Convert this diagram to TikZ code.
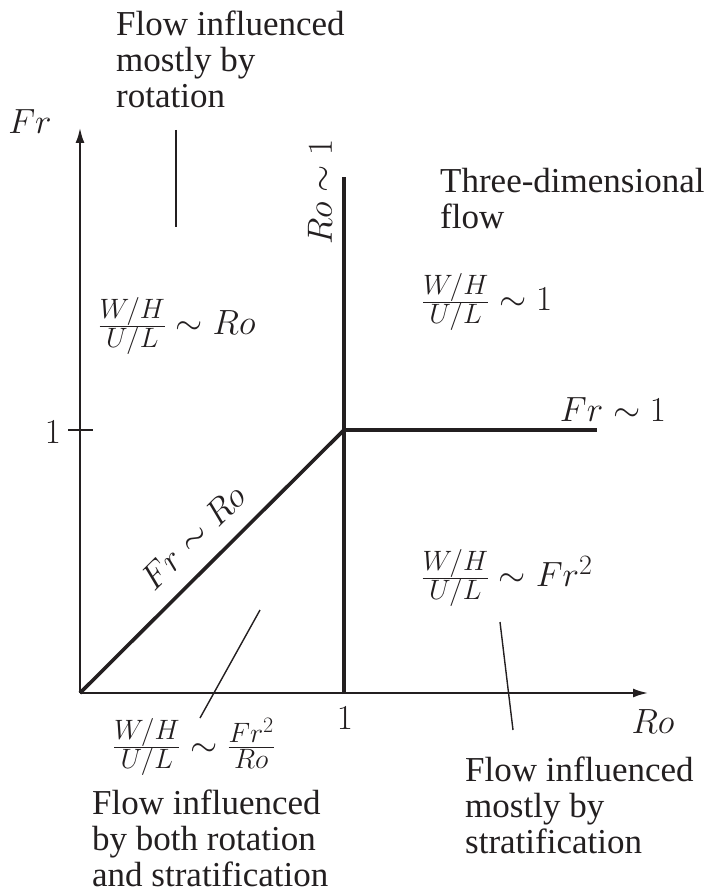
\RequirePackage{fix-cm}
\documentclass[tikz,border=0pt]{standalone}
\usepackage[no-math]{fontspec}
\setmainfont{Liberation Serif}
\DeclareMathSizes{35}{35}{28}{22}
\usetikzlibrary{arrows.meta}
\definecolor{ink}{HTML}{231F20}
\begin{document}
\begin{tikzpicture}[x=1pt,y=-1pt,
  every node/.style={inner sep=0pt, text=ink, font=\fontsize{35}{36}\selectfont},
  axisline/.style={draw=ink, line width=2pt},
  boundary/.style={draw=ink, line width=3.6pt},
  pointer/.style={draw=ink, line width=1.4pt},
  axarrow/.style={-{Latex[length=15pt,width=9pt]}},
  regiontext/.style={align=left, anchor=north west}]
\useasboundingbox (0,0) rectangle (708,890);
% axes
\coordinate (O) at (80,693);
\coordinate (ytip) at (80,128);
\coordinate (xtip) at (648,693);
\draw[axisline, axarrow] (O) -- (ytip);
\draw[axisline, axarrow] (O) -- (xtip);
% y tick
\coordinate (tickL) at (68,430);
\coordinate (tickR) at (93,430);
\draw[axisline] (tickL) -- (tickR);
% boundaries
\coordinate (C) at (344,430);
\coordinate (Vtop) at (344,177);
\coordinate (Vbot) at (344,694);
\coordinate (Hend) at (597,430);
\draw[boundary] (Vbot) -- (Vtop);
\draw[boundary] (C) -- (Hend);
\draw[boundary] (O) -- (C) node[pos=0.51, sloped, above=17pt] (frro) {$Fr\sim Ro$};
% axis labels
\node (frlab) at (30,122) {$Fr$};
\node (rolab) at (653,722) {$Ro$};
\node (xone) at (345,718) {$1$};
\node (yone) at (53,432) {$1$};
\node[rotate=90] (roone) at (320,192) {$Ro\sim 1$};
\node (frone) at (613,410) {$Fr\sim 1$};
% regime formulas
\node (ftl) at (177,326) {$\frac{W/H}{U/L}\sim Ro$};
\node (ftr) at (487,302) {$\frac{W/H}{U/L}\sim 1$};
\node (fbr) at (507,578) {$\frac{W/H}{U/L}\sim Fr^2$};
\node (fbl) at (194,747) {$\frac{W/H}{U/L}\sim \frac{Fr^2}{Ro}$};
% region texts
\node[regiontext] (trot) at (116,11) {Flow influenced\\mostly by\\rotation};
\node[regiontext] (tthree) at (440,168) {Three-dimensional\\flow};
\node[regiontext] (tboth) at (92,790) {Flow influenced\\by both rotation\\and stratification};
\node[regiontext] (tstrat) at (465,757) {Flow influenced\\mostly by\\stratification};
% pointer lines
\coordinate (p1a) at (176,130);
\coordinate (p1b) at (176,227);
\draw[pointer] (p1a) -- (p1b);
\coordinate (p2a) at (260,610);
\coordinate (p2b) at (200,718);
\draw[pointer] (p2a) -- (p2b);
\coordinate (p3a) at (500,622);
\coordinate (p3b) at (513,730);
\draw[pointer] (p3a) -- (p3b);
\end{tikzpicture}
\end{document}
